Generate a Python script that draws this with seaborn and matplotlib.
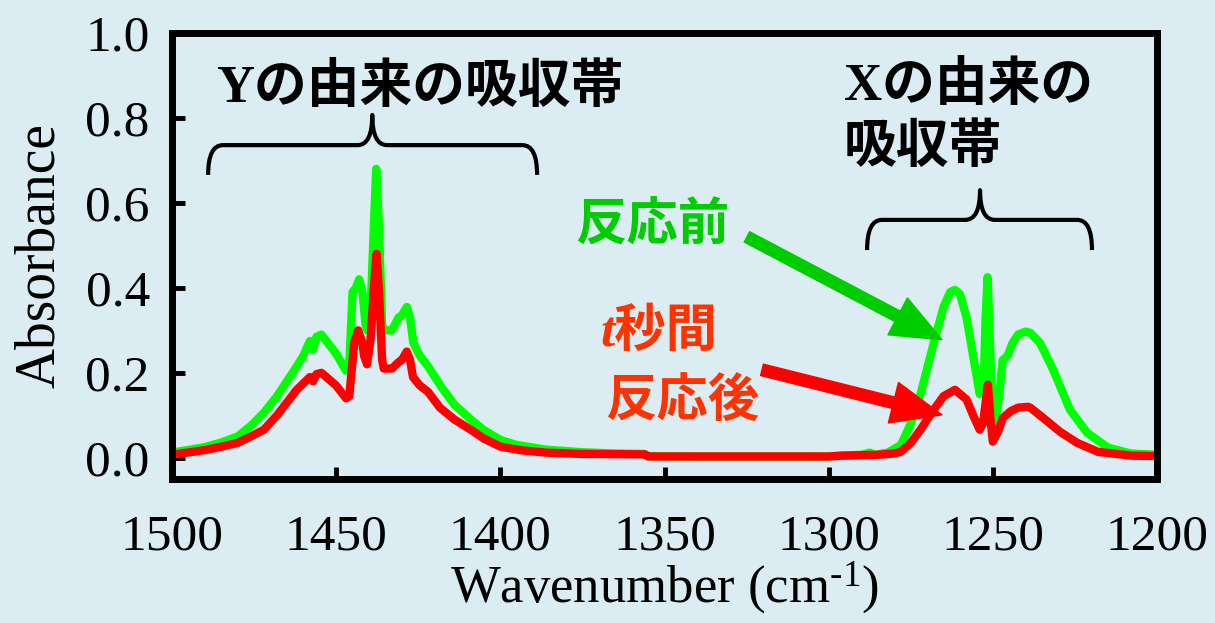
import matplotlib
matplotlib.use("Agg")
import matplotlib.pyplot as plt
from matplotlib.path import Path
from matplotlib.patches import PathPatch
import seaborn as sns

# spectrum before reaction (green)
wn_before = [
    1500, 1490, 1485, 1480, 1476, 1472, 1468, 1465, 1462, 1460, 1458, 1457, 1456,
    1454.5, 1450, 1447, 1446, 1445, 1444, 1443, 1442, 1441, 1440.5, 1439.5, 1438.5,
    1437.8, 1437, 1436, 1435, 1433, 1431, 1430, 1428.5, 1427.5, 1426.5, 1424.5, 1422,
    1418, 1414, 1409, 1405, 1400, 1395, 1386, 1375, 1365, 1356, 1355, 1340, 1320,
    1300, 1296, 1290, 1287.5, 1286, 1282, 1278, 1275, 1272, 1270, 1268, 1265, 1263,
    1261.5, 1260, 1258, 1256, 1254, 1252.8, 1252.2, 1251.6, 1251, 1250.2, 1249.3,
    1248, 1247, 1245.5, 1244, 1242.3, 1240, 1238.6, 1235.6, 1231.6, 1226.5, 1221.3,
    1215, 1208, 1200,
]
abs_before = [
    0.012, 0.025, 0.036, 0.05, 0.075, 0.106, 0.145, 0.18, 0.215, 0.24, 0.275, 0.255, 0.285,
    0.29, 0.245, 0.205, 0.22, 0.39, 0.40, 0.42, 0.39, 0.31, 0.30, 0.35, 0.55,
    0.68, 0.55, 0.31, 0.30, 0.30, 0.33, 0.335, 0.355, 0.33, 0.27, 0.24, 0.215,
    0.167, 0.125, 0.09, 0.065, 0.042, 0.03, 0.019, 0.013, 0.01, 0.009, 0.004, 0.003, 0.003,
    0.003, 0.005, 0.007, 0.012, 0.007, 0.012, 0.03, 0.08, 0.15, 0.21, 0.27, 0.355, 0.39,
    0.395, 0.385, 0.33, 0.24, 0.15, 0.16, 0.33, 0.425, 0.30, 0.12, 0.08,
    0.15, 0.23, 0.24, 0.27, 0.29, 0.297, 0.294, 0.27, 0.207, 0.113, 0.059,
    0.024, 0.01, 0.007,
]

# spectrum after t seconds of reaction (red)
wn_after = [
    1500, 1490, 1485, 1480, 1476, 1472, 1468, 1465, 1462, 1458, 1457, 1456, 1454.5,
    1450, 1447, 1446, 1444.5, 1443.3, 1442, 1441.5, 1440.6, 1439.5, 1438.5, 1437.7,
    1437, 1436, 1435.5, 1433, 1431, 1430, 1428.5, 1427.5, 1426.6, 1424.5, 1422, 1418.4,
    1414, 1409, 1405, 1400, 1393, 1386, 1375, 1356, 1355, 1300, 1296, 1285, 1280,
    1278, 1275, 1272, 1270, 1268, 1265, 1261.5, 1258, 1256, 1254, 1253, 1251.5, 1250.7,
    1250, 1248.5, 1246.9, 1244.5, 1242.3, 1239.3, 1238.6, 1234.7, 1229.5, 1224.3, 1218,
    1208, 1200,
]
abs_after = [
    0.007, 0.018, 0.026, 0.035, 0.05, 0.066, 0.10, 0.13, 0.16, 0.19, 0.18, 0.197, 0.20,
    0.17, 0.14, 0.145, 0.27, 0.30, 0.27, 0.24, 0.22, 0.28, 0.40, 0.48,
    0.40, 0.23, 0.21, 0.21, 0.225, 0.23, 0.25, 0.23, 0.19, 0.17, 0.155, 0.118,
    0.09, 0.066, 0.045, 0.026, 0.017, 0.012, 0.009, 0.008, 0.003, 0.003, 0.005, 0.007, 0.01,
    0.014, 0.035, 0.066, 0.09, 0.113, 0.145, 0.16, 0.137, 0.10, 0.066, 0.08, 0.172, 0.09,
    0.038, 0.06, 0.094, 0.11, 0.118, 0.12, 0.118, 0.094, 0.061, 0.035, 0.014,
    0.005, 0.004,
]

x_ticks = [1500, 1450, 1400, 1350, 1300, 1250, 1200]
y_ticks = [0.0, 0.2, 0.4, 0.6, 0.8, 1.0]

BG = "#dbedf3"
GREEN = "#00ff00"
RED = "#ff0000"
TEXT_GREEN = "#00cc00"
TEXT_RED = "#ff3300"

sns.set_style("ticks", {"axes.facecolor": BG, "figure.facecolor": BG})
plt.rcParams["font.family"] = ["Liberation Serif", "Noto Sans CJK JP"]
plt.rcParams["mathtext.fontset"] = "custom"
plt.rcParams["mathtext.rm"] = "Liberation Serif"
plt.rcParams["mathtext.it"] = "Liberation Serif:italic"
for key in ["text.color", "axes.labelcolor", "xtick.color", "ytick.color"]:
    plt.rcParams[key] = "black"

JP = ["Liberation Serif", "Noto Sans CJK JP"]


def draw_brace(ax, x_left, x_mid, x_right, y_end, y_bar, y_tip, dx, lw=3):
    # curly brace opening downward, x axis is reversed so "right" = smaller wn
    verts = [
        (x_left, y_end), (x_left, y_bar), (x_left - dx, y_bar),
        (x_mid + dx, y_bar), (x_mid, y_bar), (x_mid, y_tip),
        (x_mid, y_bar), (x_mid - dx, y_bar),
        (x_right + dx, y_bar), (x_right, y_bar), (x_right, y_end),
    ]
    codes = [
        Path.MOVETO, Path.CURVE3, Path.CURVE3,
        Path.LINETO, Path.CURVE3, Path.CURVE3,
        Path.CURVE3, Path.CURVE3,
        Path.LINETO, Path.CURVE3, Path.CURVE3,
    ]
    ax.add_patch(PathPatch(Path(verts, codes), fill=False, lw=lw, ec="black",
                           capstyle="butt", joinstyle="round"))


fig = plt.figure(figsize=(12.15, 6.23), dpi=100)
ax = fig.add_axes([172 / 1215, 1 - 479 / 623, 985 / 1215, 446 / 623])

sns.lineplot(x=wn_before, y=abs_before, color=GREEN, lw=6, ax=ax,
             estimator=None, sort=False, solid_joinstyle="round",
             solid_capstyle="round")
sns.lineplot(x=wn_after, y=abs_after, color=RED, lw=6, ax=ax,
             estimator=None, sort=False, solid_joinstyle="round",
             solid_capstyle="round")

ax.set_xlim(1500, 1200)
ax.set_ylim(-0.05, 1.0)
ax.set_xticks(x_ticks)
ax.set_xticklabels([str(v) for v in x_ticks])
ax.set_yticks(y_ticks)
ax.set_yticklabels([f"{v:.1f}" for v in y_ticks])
ax.tick_params(direction="in", length=9, width=3.5, labelsize=37, color="black")
ax.tick_params(axis="x", pad=25)
ax.tick_params(axis="y", pad=16)
for side in ["left", "right", "top", "bottom"]:
    ax.spines[side].set_visible(True)
    ax.spines[side].set_linewidth(5)
    ax.spines[side].set_color("black")

ax.set_xlabel("Wavenumber (cm$^{\\mathregular{\u2010}1}$)", fontsize=38, labelpad=-1)
ax.set_ylabel("Absorbance", fontsize=40, labelpad=14)

# band annotations
draw_brace(ax, 1489, 1439, 1388.8, 0.666, 0.736, 0.807, 4.5)
draw_brace(ax, 1288.3, 1253.9, 1219.8, 0.489, 0.56, 0.63, 4.5)

ax.text(0.252, 0.877, "Yの由来の吸収帯", transform=ax.transAxes, ha="center",
        va="center", fontsize=38, fontweight="bold", family=JP)
ax.text(0.682, 0.881, "Xの由来の", transform=ax.transAxes, ha="left",
        va="center", fontsize=38, fontweight="bold", family=JP)
ax.text(0.682, 0.742, "吸収帯", transform=ax.transAxes, ha="left",
        va="center", fontsize=38, fontweight="bold", family=JP)

ax.text(0.409, 0.563, "反応前", transform=ax.transAxes, ha="left",
        va="center", fontsize=37, fontweight="bold", color=TEXT_GREEN, family=JP)
ax.text(0.4345, 0.327, "t秒間", transform=ax.transAxes, ha="left",
        va="center", fontsize=37, fontweight="bold", style="italic",
        color=TEXT_RED, family=JP)
ax.text(0.44, 0.170, "反応後", transform=ax.transAxes, ha="left",
        va="center", fontsize=37, fontweight="bold", color=TEXT_RED, family=JP)

arrow_style = "simple,head_length=1.2,head_width=1.0,tail_width=0.28"
ax.annotate("", xy=(1265.5, 0.278), xytext=(1324.9, 0.52),
            arrowprops=dict(arrowstyle=arrow_style, color=TEXT_GREEN,
                            mutation_scale=30, shrinkA=0, shrinkB=0))
ax.annotate("", xy=(1265.5, 0.101), xytext=(1320.3, 0.207),
            arrowprops=dict(arrowstyle=arrow_style, color=RED,
                            mutation_scale=30, shrinkA=0, shrinkB=0))

fig.savefig("out.png", dpi=100, facecolor=BG)
